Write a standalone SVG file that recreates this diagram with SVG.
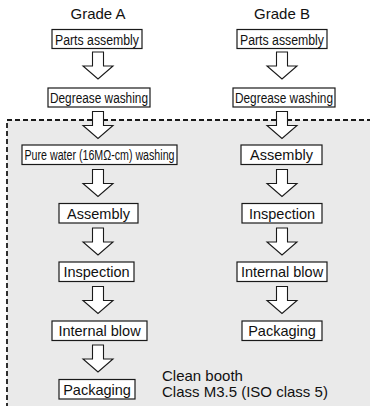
<svg xmlns="http://www.w3.org/2000/svg" width="370" height="406" viewBox="0 0 370 406">
<style>
.bx{fill:#fff;stroke:#1a1a1a;stroke-width:1.2}
.t{font-family:"Liberation Sans",Arial,sans-serif;fill:#111;text-anchor:middle}
.n{font-size:14px}
.r{font-size:14.5px}
.l{font-size:15px;text-anchor:start}
.ar{fill:#fff;stroke:#1a1a1a;stroke-width:1.1;stroke-linejoin:miter}
</style>
<defs>
<path id="arr" d="M-5.5,0 H5.5 V14 H15 L0,27 L-15,14 H-5.5 Z"/>
</defs>
<rect x="7" y="120" width="400" height="320" fill="#eaeaea" stroke="#1a1a1a" stroke-width="1.8" stroke-dasharray="5 3"/>
<text class="t" x="98" y="19" font-size="15">Grade A</text>
<text class="t" x="282" y="19" font-size="15">Grade B</text>
<g id="connectors">
<use href="#arr" class="ar" x="98" y="52"/>
<use href="#arr" class="ar" x="98" y="111.5"/>
<use href="#arr" class="ar" x="98" y="169.5"/>
<use href="#arr" class="ar" x="98" y="228"/>
<use href="#arr" class="ar" x="98" y="286.5"/>
<use href="#arr" class="ar" x="98" y="345"/>
<use href="#arr" class="ar" x="282" y="52"/>
<use href="#arr" class="ar" x="282" y="111.5"/>
<use href="#arr" class="ar" x="282" y="169.5"/>
<use href="#arr" class="ar" x="282" y="228"/>
<use href="#arr" class="ar" x="282" y="286.5"/>
</g>
<g id="a-parts"><rect class="bx" x="52" y="29.5" width="90" height="19"/><text class="t n" x="97" y="44.5" textLength="84" lengthAdjust="spacingAndGlyphs">Parts assembly</text></g>
<g id="a-degrease"><rect class="bx" x="48" y="88" width="102" height="19"/><text class="t n" x="99" y="103" textLength="98" lengthAdjust="spacingAndGlyphs">Degrease washing</text></g>
<g id="a-purewater"><rect class="bx" x="22" y="145" width="155" height="19.5"/><text class="t n" x="99.5" y="160" textLength="150" lengthAdjust="spacingAndGlyphs">Pure water (16MΩ-cm) washing</text></g>
<g id="a-assembly"><rect class="bx" x="59" y="203.5" width="79" height="19.5"/><text class="t r" x="98.5" y="218.5">Assembly</text></g>
<g id="a-inspection"><rect class="bx" x="59" y="262" width="75" height="19.5"/><text class="t r" x="96.5" y="277">Inspection</text></g>
<g id="a-blow"><rect class="bx" x="52" y="321" width="95" height="19.5"/><text class="t r" x="99.5" y="336">Internal blow</text></g>
<g id="a-packaging"><rect class="bx" x="59" y="379.5" width="76" height="19.5"/><text class="t r" x="97" y="394.5">Packaging</text></g>
<g id="b-parts"><rect class="bx" x="237" y="29.5" width="90" height="19"/><text class="t n" x="282" y="44.5" textLength="84" lengthAdjust="spacingAndGlyphs">Parts assembly</text></g>
<g id="b-degrease"><rect class="bx" x="233" y="88" width="102" height="19"/><text class="t n" x="284" y="103" textLength="98" lengthAdjust="spacingAndGlyphs">Degrease washing</text></g>
<g id="b-assembly"><rect class="bx" x="241" y="145" width="81" height="19.5"/><text class="t r" x="281.5" y="160">Assembly</text></g>
<g id="b-inspection"><rect class="bx" x="242" y="203.5" width="80" height="19.5"/><text class="t r" x="282" y="218.5">Inspection</text></g>
<g id="b-blow"><rect class="bx" x="237" y="262" width="90" height="19.5"/><text class="t r" x="282" y="277">Internal blow</text></g>
<g id="b-packaging"><rect class="bx" x="242" y="321" width="80" height="19.5"/><text class="t r" x="282" y="336">Packaging</text></g>
<g id="cleanbooth-label">
<text class="t l" x="162" y="381">Clean booth</text>
<text class="t l" x="162" y="397">Class M3.5 (ISO class 5)</text>
</g>
</svg>
